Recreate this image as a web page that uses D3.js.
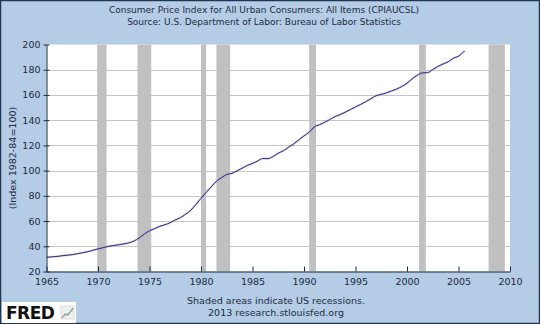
<!DOCTYPE html>
<html>
<head>
<meta charset="utf-8">
<script src="https://cdn.jsdelivr.net/npm/d3@7"></script>
<style>
  html, body { margin: 0; padding: 0; background: #b4cce6; }
  svg { display: block; }
  text { font-family: "DejaVu Sans", Verdana, sans-serif; fill: #1c2b40; }
</style>
</head>
<body>
<svg id="chart" width="540" height="324"></svg>
<script>
// CPI-U, all items, seasonally adjusted (1982-84 = 100), sampled twice a year
const dates = [
  1965.0, 1965.5, 1966.0, 1966.5, 1967.0, 1967.5, 1968.0, 1968.5, 1969.0, 1969.5,
  1970.0, 1970.5, 1971.0, 1971.5, 1972.0, 1972.5, 1973.0, 1973.5, 1974.0, 1974.5,
  1975.0, 1975.5, 1976.0, 1976.5, 1977.0, 1977.5, 1978.0, 1978.5, 1979.0, 1979.5,
  1980.0, 1980.5, 1981.0, 1981.5, 1982.0, 1982.5, 1983.0, 1983.5, 1984.0, 1984.5,
  1985.0, 1985.5, 1986.0, 1986.5, 1987.0, 1987.5, 1988.0, 1988.5, 1989.0, 1989.5,
  1990.0, 1990.5, 1991.0, 1991.5, 1992.0, 1992.5, 1993.0, 1993.5, 1994.0, 1994.5,
  1995.0, 1995.5, 1996.0, 1996.5, 1997.0, 1997.5, 1998.0, 1998.5, 1999.0, 1999.5,
  2000.0, 2000.5, 2001.0, 2001.5, 2002.0, 2002.5, 2003.0, 2003.5, 2004.0, 2004.5,
  2005.0, 2005.6
];
const cpi = [
  31.3, 31.6, 31.9, 32.5, 32.9, 33.4, 34.1, 34.9, 35.7, 36.8,
  37.9, 38.9, 39.9, 40.6, 41.2, 41.9, 42.7, 44.2, 46.6, 49.7,
  52.3, 54.0, 55.8, 57.1, 58.7, 60.9, 62.7, 65.4, 68.5, 73.1,
  78.0, 82.7, 87.2, 91.6, 94.4, 97.0, 97.8, 99.9, 101.9, 104.1,
  105.7, 107.7, 109.6, 109.5, 111.2, 113.8, 115.7, 118.5, 121.2, 124.4,
  127.5, 130.4, 134.7, 136.4, 138.3, 140.5, 142.8, 144.4, 146.3, 148.4,
  150.5, 152.5, 154.7, 157.0, 159.4, 160.5, 161.6, 163.2, 164.7, 166.7,
  169.3, 172.8, 175.6, 177.5, 177.7, 180.1, 182.6, 184.6, 186.3, 189.1,
  190.7, 195.0
];

// NBER recession periods (start, end) as decimal years
const recessionStarts = [1969.92, 1973.83, 1980.0, 1981.5, 1990.5, 2001.17, 2007.92];
const recessionEnds   = [1970.83, 1975.17, 1980.5, 1982.83, 1991.17, 2001.83, 2009.5];

const xTicks = [1965, 1970, 1975, 1980, 1985, 1990, 1995, 2000, 2005, 2010];
const yTicks = [20, 40, 60, 80, 100, 120, 140, 160, 180, 200];

const titleLines = [
  "Consumer Price Index for All Urban Consumers: All Items (CPIAUCSL)",
  "Source: U.S. Department of Labor: Bureau of Labor Statistics"
];
const yTitle = "(Index 1982-84=100)";
const footLines = ["Shaded areas indicate US recessions.", "2013 research.stlouisfed.org"];

const svg = d3.select("#chart");
const W = 540, H = 324;
const plot = { left: 46.5, right: 510, top: 44.5, bottom: 271.5 };

// outer frame
svg.append("rect").attr("x", 0.5).attr("y", 0.5).attr("width", W - 1).attr("height", H - 1)
  .attr("fill", "#b4cce6").attr("stroke", "#1f3550").attr("stroke-width", 1.5);

const x = d3.scaleLinear().domain([1965, 2010]).range([plot.left, plot.right]);
const y = d3.scaleLinear().domain([20, 200]).range([plot.bottom, plot.top]);

// plot background
svg.append("rect").attr("x", plot.left).attr("y", plot.top)
  .attr("width", plot.right - plot.left).attr("height", plot.bottom - plot.top)
  .attr("fill", "#ffffff");

// horizontal grid
svg.append("g").selectAll("line").data(yTicks.filter(d => d > 20 && d < 200)).join("line")
  .attr("x1", plot.left).attr("x2", plot.right)
  .attr("y1", d => Math.round(y(d)) + 0.5).attr("y2", d => Math.round(y(d)) + 0.5)
  .attr("stroke", "#c6c6c6").attr("stroke-width", 1);

// recession shading
svg.append("g").selectAll("rect").data(recessionStarts).join("rect")
  .attr("x", d => x(d))
  .attr("width", (d, i) => x(recessionEnds[i]) - x(d))
  .attr("y", plot.top).attr("height", plot.bottom - plot.top)
  .attr("fill", "#c0c0c0");

// series line
const pts = dates.map((d, i) => [d, cpi[i]]);
const line = d3.line().x(d => x(d[0])).y(d => y(d[1])).curve(d3.curveMonotoneX);
svg.append("path").datum(pts).attr("d", line)
  .attr("fill", "none").attr("stroke", "#9a9ad8").attr("stroke-width", 2.2).attr("opacity", 0.45);
svg.append("path").datum(pts).attr("d", line)
  .attr("fill", "none").attr("stroke", "#2e2e78").attr("stroke-width", 1);

// axes
const xAxis = d3.axisBottom(x).tickValues(xTicks).tickFormat(d3.format("d")).tickSizeInner(-5).tickSizeOuter(0).tickPadding(7);
const gx = svg.append("g").attr("transform", `translate(0,${plot.bottom})`).call(xAxis);
gx.select(".domain").attr("stroke", "#1c2b40");
gx.selectAll(".tick line").attr("stroke", "#1c2b40");
gx.selectAll(".tick text").attr("font-size", 9.5).attr("fill", "#1c2b40").attr("font-family", "DejaVu Sans");

const yAxis = d3.axisLeft(y).tickValues(yTicks).tickSizeInner(3).tickSizeOuter(0).tickPadding(3);
const gy = svg.append("g").attr("transform", `translate(${plot.left},0)`).call(yAxis);
gy.select(".domain").attr("stroke", "#1c2b40");
gy.selectAll(".tick line").attr("stroke", "#1c2b40").attr("x2", 3).attr("x1", -3);
gy.selectAll(".tick text").attr("font-size", 9.5).attr("fill", "#1c2b40").attr("font-family", "DejaVu Sans");

// titles
svg.append("g").selectAll("text").data(titleLines).join("text")
  .attr("x", 264).attr("y", (d, i) => 13 + i * 12)
  .attr("text-anchor", "middle").attr("font-size", 9).text(d => d);

svg.append("text")
  .attr("transform", `translate(16,${(plot.top + plot.bottom) / 2}) rotate(-90)`)
  .attr("text-anchor", "middle").attr("font-size", 9.5).text(yTitle);

svg.append("g").selectAll("text").data(footLines).join("text")
  .attr("x", 276).attr("y", (d, i) => 304 + i * 12)
  .attr("text-anchor", "middle").attr("font-size", 9.5).text(d => d);

// FRED badge
const badge = svg.append("g").attr("transform", "translate(2,302)");
badge.append("rect").attr("width", 74).attr("height", 21).attr("fill", "#ffffff");
badge.append("text").attr("x", 4).attr("y", 17).attr("font-size", 17).attr("font-weight", "bold")
  .style("fill", "#111111").attr("font-family", "DejaVu Sans").attr("letter-spacing", -0.5).text("FRED");
const icon = badge.append("g").attr("transform", "translate(59,4)");
icon.append("rect").attr("width", 13).attr("height", 13).attr("fill", "#eef0f0").attr("stroke", "#c8cccc").attr("stroke-width", 0.6);
icon.append("polyline").attr("points", "1,12 4,8 7,9 12,2").attr("fill", "none").attr("stroke", "#7a9a8a").attr("stroke-width", 1.2);
icon.append("polyline").attr("points", "1,10 5,10 8,6 12,5").attr("fill", "none").attr("stroke", "#a8b8b0").attr("stroke-width", 0.8);
</script>
</body>
</html>
